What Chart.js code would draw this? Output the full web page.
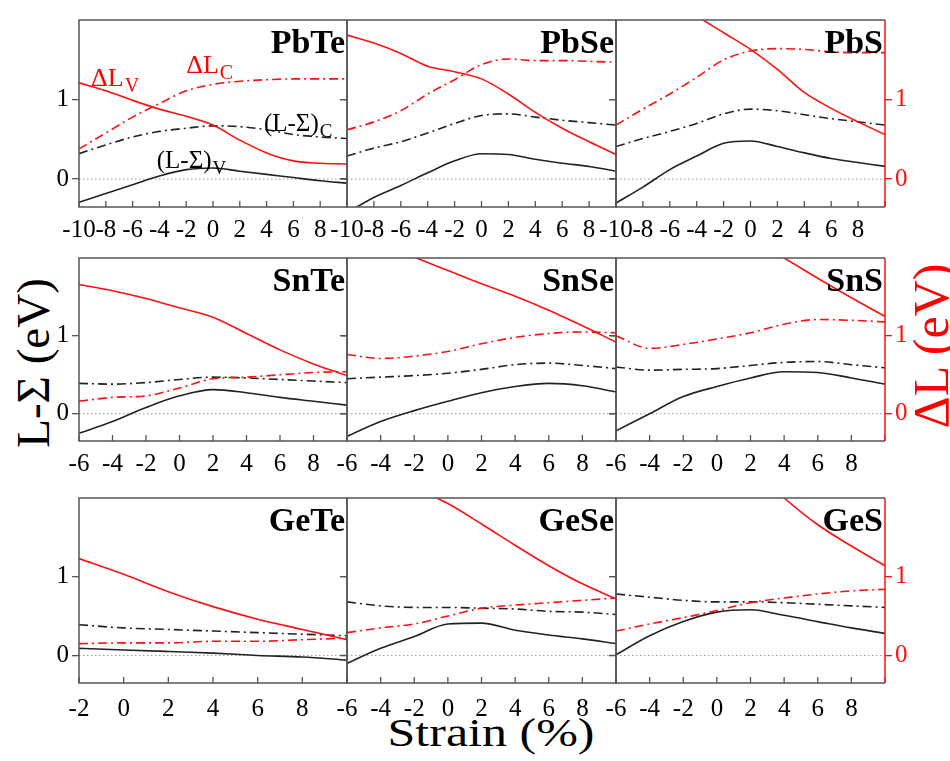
<!DOCTYPE html>
<html>
<head>
<meta charset="utf-8">
<script src="https://cdn.jsdelivr.net/npm/chart.js@4.4.0/dist/chart.umd.min.js"></script>
<style>
body { margin: 0; background: #fff; }
#fig { position: relative; width: 950px; height: 761px; overflow: hidden; font-family: "Liberation Serif", serif; }
#fig canvas { position: absolute; }
.lab { position: absolute; white-space: nowrap; line-height: 1; font-family: "Liberation Serif", serif; }
</style>
</head>
<body>
<div id="fig">
  <div class="lab" id="ylab" style="left:33px;top:363px;font-size:47px;transform:translate(-50%,-50%) rotate(-90deg);">L-Σ (eV)</div>
  <div class="lab" id="y2lab" style="left:931px;top:346px;font-size:50px;color:#ff0000;transform:translate(-50%,-50%) rotate(-90deg);">ΔL (eV)</div>
  <div class="lab" id="xlab" style="left:491px;top:733px;font-size:40px;transform:translate(-50%,-50%) scaleX(1.25);">Strain (%)</div>
</div>
<script>
// panel names, row by row
const materials = ['PbTe', 'PbSe', 'PbS', 'SnTe', 'SnSe', 'SnS', 'GeTe', 'GeSe', 'GeS'];

// strain axes (%)
const strainPb = [-10, -8, -6, -4, -2, 0, 2, 4, 6, 8, 10];
const strainSn = [-6, -4, -2, 0, 2, 4, 6, 8, 10];
const strainGeTe = [-2, 0, 2, 4, 6, 8, 10];
const strainGe = [-6, -4, -2, 0, 2, 4, 6, 8, 10];

// dLv = ΔL_V, dLc = ΔL_C, lsC = (L-Σ)_C, lsV = (L-Σ)_V  (eV)
const pbteDLv = [1.21, 1.11, 0.99, 0.88, 0.79, 0.68, 0.49, 0.33, 0.23, 0.20, 0.19];
const pbteDLc = [0.38, 0.58, 0.78, 0.95, 1.11, 1.19, 1.23, 1.25, 1.26, 1.26, 1.26];
const pbteLSc = [0.32, 0.43, 0.53, 0.60, 0.64, 0.67, 0.66, 0.62, 0.56, 0.53, 0.51];
const pbteLSv = [-0.29, -0.18, -0.07, 0.04, 0.12, 0.14, 0.10, 0.06, 0.02, -0.02, -0.05];

const pbseDLv = [1.81, 1.71, 1.58, 1.42, 1.35, 1.26, 1.07, 0.84, 0.64, 0.47, 0.31];
const pbseDLc = [0.62, 0.72, 0.86, 1.07, 1.25, 1.44, 1.51, 1.49, 1.49, 1.48, 1.47];
const pbseLSc = [0.29, 0.39, 0.47, 0.58, 0.70, 0.80, 0.82, 0.78, 0.74, 0.71, 0.68];
const pbseLSv = [-0.42, -0.23, -0.08, 0.08, 0.23, 0.32, 0.31, 0.25, 0.20, 0.16, 0.10];

const pbsDLv = [2.70, 2.48, 2.27, 2.05, 1.84, 1.63, 1.38, 1.09, 0.89, 0.72, 0.56];
const pbsDLc = [0.68, 0.88, 1.07, 1.28, 1.50, 1.61, 1.64, 1.63, 1.60, 1.59, 1.59];
const pbsLSc = [0.41, 0.51, 0.60, 0.70, 0.82, 0.88, 0.86, 0.81, 0.76, 0.72, 0.68];
const pbsLSv = [-0.30, -0.10, 0.12, 0.29, 0.45, 0.48, 0.41, 0.33, 0.26, 0.21, 0.16];

const snteDLv = [1.66, 1.58, 1.48, 1.36, 1.24, 1.03, 0.82, 0.64, 0.49];
const snteDLc = [0.16, 0.21, 0.23, 0.33, 0.45, 0.47, 0.50, 0.53, 0.54];
const snteLSc = [0.39, 0.38, 0.40, 0.44, 0.47, 0.46, 0.44, 0.42, 0.40];
const snteLSv = [-0.25, -0.10, 0.08, 0.23, 0.31, 0.27, 0.21, 0.16, 0.11];

const snseDLv = [2.35, 2.18, 2.01, 1.84, 1.67, 1.51, 1.33, 1.13, 0.92];
const snseDLc = [0.76, 0.71, 0.74, 0.80, 0.90, 0.98, 1.03, 1.05, 1.04];
const snseLSc = [0.45, 0.47, 0.49, 0.52, 0.57, 0.63, 0.65, 0.62, 0.58];
const snseLSv = [-0.29, -0.10, 0.04, 0.16, 0.27, 0.35, 0.39, 0.36, 0.28];

const snsDLv = [3.20, 2.95, 2.70, 2.47, 2.24, 2.00, 1.74, 1.49, 1.25];
const snsDLc = [1.00, 0.84, 0.89, 0.96, 1.04, 1.15, 1.21, 1.20, 1.18];
const snsLSc = [0.60, 0.56, 0.57, 0.58, 0.62, 0.66, 0.67, 0.63, 0.59];
const snsLSv = [-0.22, 0.00, 0.22, 0.35, 0.46, 0.54, 0.53, 0.46, 0.38];

const geteDLv = [1.23, 1.03, 0.81, 0.62, 0.46, 0.33, 0.20];
const geteDLc = [0.15, 0.16, 0.16, 0.18, 0.18, 0.20, 0.22];
const geteLSc = [0.39, 0.35, 0.33, 0.31, 0.29, 0.27, 0.25];
const geteLSv = [0.09, 0.07, 0.05, 0.03, 0.00, -0.02, -0.06];

const geseDLv = [2.55, 2.35, 2.13, 1.93, 1.67, 1.40, 1.14, 0.91, 0.72];
const geseDLc = [0.29, 0.35, 0.40, 0.50, 0.60, 0.64, 0.67, 0.70, 0.73];
const geseLSc = [0.68, 0.63, 0.61, 0.61, 0.60, 0.59, 0.56, 0.55, 0.52];
const geseLSv = [-0.10, 0.09, 0.24, 0.40, 0.41, 0.32, 0.26, 0.21, 0.15];

const gesDLv = [4.00, 3.60, 3.20, 2.80, 2.40, 2.00, 1.66, 1.39, 1.14];
const gesDLc = [0.31, 0.40, 0.48, 0.57, 0.67, 0.73, 0.78, 0.82, 0.84];
const gesLSc = [0.78, 0.74, 0.70, 0.68, 0.68, 0.67, 0.65, 0.63, 0.61];
const gesLSv = [0.01, 0.25, 0.43, 0.55, 0.58, 0.51, 0.43, 0.35, 0.28];

const yTicks = [0, 1];

const panels = [
    [strainPb, pbteDLv, pbteDLc, pbteLSc, pbteLSv],
    [strainPb, pbseDLv, pbseDLc, pbseLSc, pbseLSv],
    [strainPb, pbsDLv, pbsDLc, pbsLSc, pbsLSv],
    [strainSn, snteDLv, snteDLc, snteLSc, snteLSv],
    [strainSn, snseDLv, snseDLc, snseLSc, snseLSv],
    [strainSn, snsDLv, snsDLc, snsLSc, snsLSv],
    [strainGeTe, geteDLv, geteDLc, geteLSc, geteLSv],
    [strainGe, geseDLv, geseDLc, geseLSc, geseLSv],
    [strainGe, gesDLv, gesDLc, gesLSc, gesLSv]
];

// curve labels inside the PbTe panel (data coords)
const pbteNotes = [
    { main: 'ΔL', sub: 'V', x: -9.1, y: 1.17, color: '#ff0000', size: 26 },
    { main: 'ΔL', sub: 'C', x: -2.0, y: 1.33, color: '#ff0000', size: 26 },
    { main: '(L-Σ)', sub: 'C', x: 3.8, y: 0.60, color: '#000', size: 25 },
    { main: '(L-Σ)', sub: 'V', x: -4.2, y: 0.14, color: '#000', size: 25 }
];

const RED = '#ff1010';
const BLK = '#222';
const SERIF = '"Liberation Serif", "DejaVu Serif", serif';
Chart.defaults.font.family = SERIF;

const colEdges = [79, 347, 616, 885];
const rowTop = [6, 244, 484];
const rowBottom = [207, 441, 683];
const rowTickPad = [0, 0, 3];

const framePlugin = {
    id: 'frame',
    beforeDatasetsDraw(chart) {
        const { ctx, chartArea: a, scales } = chart;
        const y0 = scales.y.getPixelForValue(0);
        ctx.save();
        ctx.strokeStyle = '#999';
        ctx.lineWidth = 1;
        ctx.setLineDash([1.5, 2.5]);
        ctx.beginPath();
        ctx.moveTo(a.left, y0);
        ctx.lineTo(a.right, y0);
        ctx.stroke();
        ctx.restore();
    },
    afterDatasetsDraw(chart, args, opts) {
        const { ctx, chartArea: a, scales } = chart;
        ctx.save();
        ctx.fillStyle = '#000';
        ctx.font = 'bold 34px ' + SERIF;
        ctx.textAlign = 'right';
        ctx.textBaseline = 'alphabetic';
        ctx.fillText(opts.title, a.right - 2, a.top + 33);
        ctx.textAlign = 'left';
        (opts.notes || []).forEach(n => {
            const px = scales.x.getPixelForValue(n.x);
            const py = scales.y.getPixelForValue(n.y);
            ctx.fillStyle = n.color;
            ctx.font = n.size + 'px ' + SERIF;
            ctx.fillText(n.main, px, py);
            const w = ctx.measureText(n.main).width;
            ctx.font = (n.size - 6) + 'px ' + SERIF;
            ctx.fillText(n.sub, px + w + 1, py + 6);
        });
        ctx.restore();
    },
    afterDraw(chart, args, opts) {
        const { ctx, chartArea: a, scales } = chart;
        ctx.save();
        ctx.lineWidth = 1.3;
        ctx.strokeStyle = '#555';
        // inward x ticks
        ctx.beginPath();
        scales.x.ticks.forEach(t => {
            const px = scales.x.getPixelForValue(t.value);
            ctx.moveTo(px, a.bottom);
            ctx.lineTo(px, a.bottom - 6);
        });
        if (opts.col < 2) {
            yTicks.forEach(v => {
                const py = scales.y.getPixelForValue(v);
                ctx.moveTo(a.right, py);
                ctx.lineTo(a.right - 6, py);
            });
        }
        ctx.stroke();
        // frame
        ctx.lineWidth = 1.5;
        ctx.beginPath();
        ctx.moveTo(a.right, a.top);
        ctx.lineTo(a.left, a.top);
        ctx.lineTo(a.left, a.bottom);
        ctx.lineTo(a.right, a.bottom);
        if (opts.col < 2) ctx.lineTo(a.right, a.top);
        ctx.stroke();
        if (opts.col === 2) {
            ctx.strokeStyle = RED;
            ctx.beginPath();
            ctx.moveTo(a.right, a.top);
            ctx.lineTo(a.right, a.bottom);
            ctx.stroke();
        }
        ctx.restore();
    }
};

function series(xs, ys, color, dashed) {
    return {
        data: xs.map((x, k) => ({ x: x, y: ys[k] })),
        borderColor: color,
        borderWidth: 1.6,
        borderDash: dashed ? [9, 4, 2, 4] : [],
        pointRadius: 0,
        fill: false,
        cubicInterpolationMode: 'monotone'
    };
}

const padL = 40, padR = 40, padT = 4, axH = 36;
const fig = document.getElementById('fig');

panels.forEach((p, i) => {
    const row = Math.floor(i / 3), col = i % 3;
    const L = colEdges[col], R = colEdges[col + 1], T = rowTop[row], B = rowBottom[row];
    const [xs, dLv, dLc, lsC, lsV] = p;
    const xmin = xs[0], xmax = xs[xs.length - 1];

    const cv = document.createElement('canvas');
    cv.width = R - L + padL + padR;
    cv.height = B - T + padT + axH;
    cv.style.left = (L - padL) + 'px';
    cv.style.top = (T - padT) + 'px';
    fig.appendChild(cv);

    const tickFont = { family: SERIF, size: 25 };

    new Chart(cv.getContext('2d'), {
        type: 'line',
        data: {
            datasets: [
                series(xs, dLv, RED, false),
                series(xs, dLc, RED, true),
                series(xs, lsC, BLK, true),
                series(xs, lsV, BLK, false)
            ]
        },
        options: {
            responsive: false,
            animation: false,
            events: [],
            layout: { padding: { top: padT, left: 0, right: 0, bottom: 0 } },
            plugins: {
                legend: { display: false },
                tooltip: { enabled: false },
                frame: { title: materials[i], col: col, notes: i === 0 ? pbteNotes : [] }
            },
            scales: {
                x: {
                    type: 'linear',
                    min: xmin,
                    max: xmax,
                    afterFit: s => { s.height = axH; },
                    grid: { display: false },
                    border: { display: false },
                    ticks: {
                        stepSize: 2,
                        autoSkip: false,
                        maxRotation: 0,
                        padding: rowTickPad[row],
                        font: tickFont,
                        color: '#000',
                        callback: v => (v === xmax ? '' : String(v))
                    }
                },
                y: {
                    position: 'left',
                    min: -0.35,
                    max: 2,
                    afterBuildTicks: s => { s.ticks = yTicks.map(v => ({ value: v })); },
                    afterFit: s => { s.width = padL; },
                    grid: { drawOnChartArea: false, tickLength: 7, color: '#555', lineWidth: 1.3 },
                    border: { display: false },
                    ticks: {
                        padding: 3,
                        font: tickFont,
                        color: '#000',
                        callback: v => (col === 0 ? String(v) : '')
                    }
                },
                y2: {
                    position: 'right',
                    min: -0.35,
                    max: 2,
                    afterBuildTicks: s => { s.ticks = yTicks.map(v => ({ value: v })); },
                    afterFit: s => { s.width = padR; },
                    grid: { drawOnChartArea: false, tickLength: 7, color: col === 2 ? RED : 'rgba(0,0,0,0)', lineWidth: 1.3 },
                    border: { display: false },
                    ticks: {
                        padding: 3,
                        font: tickFont,
                        color: RED,
                        callback: v => (col === 2 ? String(v) : '')
                    }
                }
            }
        },
        plugins: [framePlugin]
    });
});
</script>
</body>
</html>
